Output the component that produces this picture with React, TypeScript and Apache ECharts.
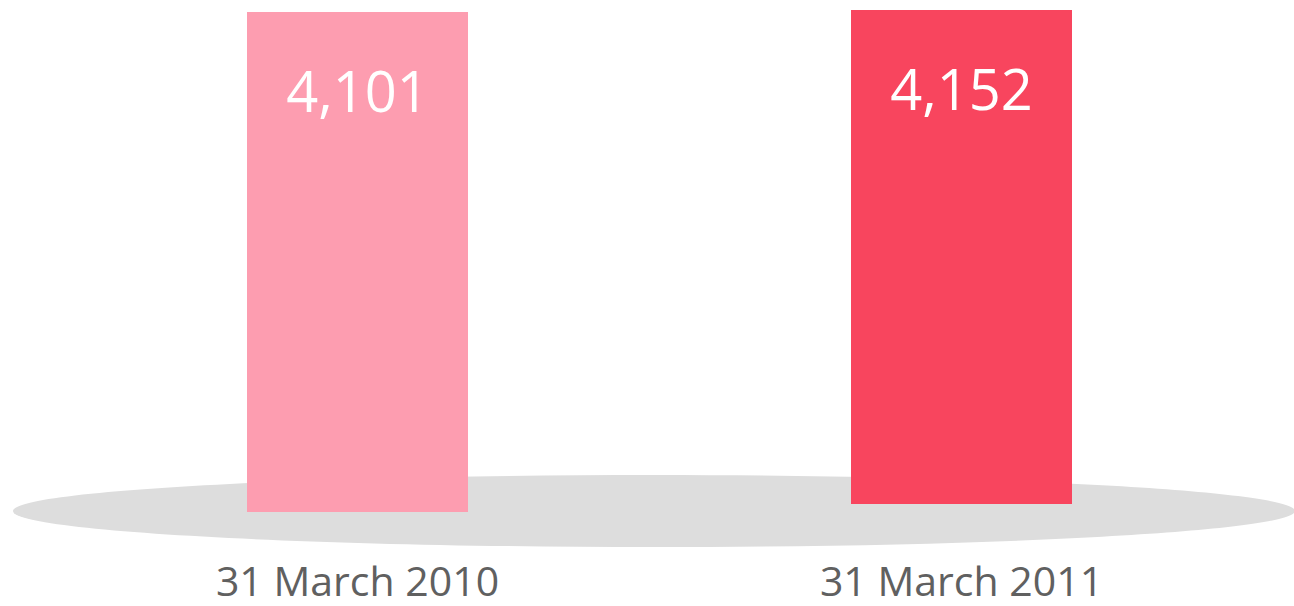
import React, { useEffect, useRef } from "react";
import * as echarts from "echarts";

const categories = ["31 March 2010", "31 March 2011"];
const values = [4101, 4152];
const colors = ["#FD9DB0", "#F8455E"];

export default function App() {
  const ref = useRef<HTMLDivElement>(null);
  useEffect(() => {
    if (!ref.current) return;
    const chart = echarts.init(ref.current, undefined, { renderer: "svg" });
    const grids = [
      { left: 247, width: 221, top: 12, bottom: 94 },
      { left: 851, width: 221, top: 10, bottom: 102 },
    ];
    const margins = [47, 55];
    chart.setOption({
      animation: false,
      grid: grids,
      xAxis: categories.map((c, i) => ({
        type: "category",
        gridIndex: i,
        data: [c],
        axisLine: { show: false },
        axisTick: { show: false },
        axisLabel: {
          margin: margins[i],
          fontFamily: "Open Sans",
          fontSize: 41,
          color: "#606060",
        },
      })),
      yAxis: categories.map((_, i) => ({
        type: "value",
        gridIndex: i,
        min: 0,
        max: "dataMax",
        show: false,
        splitLine: { show: false },
      })),
      graphic: [
        {
          type: "ellipse",
          z: -10,
          shape: { cx: 654, cy: 511, rx: 641, ry: 36 },
          style: { fill: "#DDDDDD" },
        },
      ],
      series: values.map((v, i) => ({
        type: "bar",
        xAxisIndex: i,
        yAxisIndex: i,
        data: [v],
        barWidth: "100%",
        z: 5,
        itemStyle: { color: colors[i] },
        label: {
          show: true,
          position: "insideTop",
          distance: 50,
          color: "#FFFFFF",
          fontFamily: "Open Sans",
          fontSize: 56,
          formatter: (p: any) => p.value.toLocaleString("en-US"),
        },
      })),
    });
    return () => chart.dispose();
  }, []);
  return (
    <div
      ref={ref}
      style={{ position: "fixed", left: 0, top: 0, width: 1294, height: 606, background: "#FFFFFF" }}
    />
  );
}
